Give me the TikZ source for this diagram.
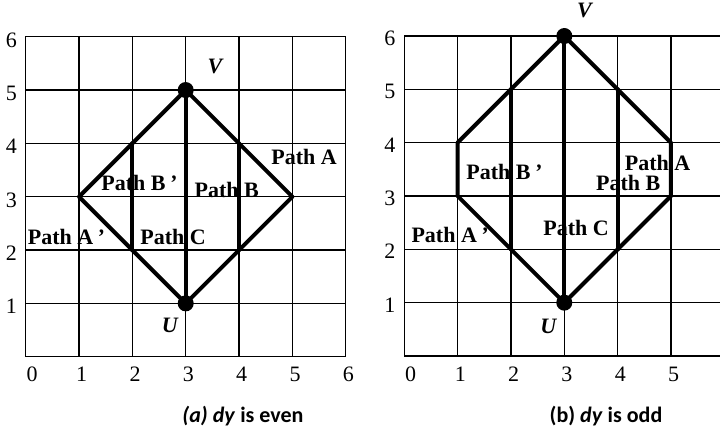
\documentclass[tikz,border=0pt]{standalone}
\usepackage{fontspec}
\setmainfont{Liberation Serif}
\setsansfont{Carlito}
\begin{document}
\begin{tikzpicture}[x=0.75pt,y=-0.75pt]
\tikzset{
  gridline/.style={line width=1pt,black},
  thick path/.style={line width=3pt,black,line cap=round,line join=round},
  dot/.style={circle,fill=black,inner sep=0pt,minimum size=12pt},
  lbl/.style={font=\fontsize{16.5}{18}\selectfont\bfseries,inner sep=0pt},
  vlbl/.style={font=\fontsize{16.5}{18}\selectfont\bfseries\itshape,inner sep=0pt},
  axlbl/.style={font=\fontsize{16.5}{18}\selectfont,inner sep=0pt},
  caption/.style={font=\fontsize{16.5}{18}\selectfont\sffamily\bfseries,inner sep=0pt}
}
\useasboundingbox (0,0) rectangle (720,433);
\clip (0,0) rectangle (720,433);

% ---------- (a) ----------
\begin{scope}[shift={(25.7,356.7)},x=40pt,y=40pt]
  \draw[gridline] (0,0) grid[step={(1,1)}] (6,6);
  \draw[gridline] (0,0) rectangle (6,6);
  \foreach \i in {1,...,6} \node[axlbl] (ay\i) at (-0.27,\i-0.06) {\i};
  \node[axlbl] (ax0) at (0.12,-0.33) {0};
  \foreach \i in {1,...,6} \node[axlbl] (ax\i) at (\i+0.05,-0.33) {\i};
  \coordinate (aL) at (1,3);
  \coordinate (aR) at (5,3);
  \coordinate (aB2t) at (2,4);
  \coordinate (aB2b) at (2,2);
  \coordinate (aB4t) at (4,4);
  \coordinate (aB4b) at (4,2);
  \node[dot] (aV) at (3,5) {};
  \node[dot] (aU) at (3,1) {};
  \draw[thick path] (aV.center) -- (aL) -- (aU.center) -- (aR) -- cycle;
  \draw[thick path] (aV.center) -- (aU.center);
  \draw[thick path] (aB2t) -- (aB2b);
  \draw[thick path] (aB4t) -- (aB4b);
  \node[vlbl] (aVl) at (3.55,5.45) {V};
  \node[vlbl] (aUl) at (2.7,0.59) {U};
\end{scope}
\node[lbl] (aPA) at (304,157.3) {Path A};
\node[lbl] (aPB) at (226.7,190) {Path B};
\node[lbl] (aPBp) at (139,183.3) {Path B\,\textit{’}};
\node[lbl] (aPC) at (173,236.7) {Path C};
\node[lbl] (aPAp) at (66,236.7) {Path A\,\textit{’}};
\node[caption] (capa) at (243,416) {\textit{(a) dy} is even};

% ---------- (b) ----------
\begin{scope}[shift={(404.3,356)},x=40pt,y=40pt]
  \draw[gridline] (0,0) grid[step={(1,1)}] (6,6);
  \draw[gridline] (0,0) rectangle (6,6);
  \foreach \i in {1,...,6} \node[axlbl] (by\i) at (-0.27,\i-0.04) {\i};
  \node[axlbl] (bx0) at (0.12,-0.34) {0};
  \foreach \i in {1,...,6} \node[axlbl] (bx\i) at (\i+0.05,-0.34) {\i};
  \coordinate (bLt) at (1,4);
  \coordinate (bLb) at (1,3);
  \coordinate (bRt) at (5,4);
  \coordinate (bRb) at (5,3);
  \coordinate (bB2t) at (2,5);
  \coordinate (bB2b) at (2,2);
  \coordinate (bB4t) at (4,5);
  \coordinate (bB4b) at (4,2);
  \node[dot] (bV) at (3,6) {};
  \node[dot] (bU) at (3,1) {};
  \draw[thick path] (bV.center) -- (bB2t) -- (bLt) -- (bLb) -- (bB2b) -- (bU.center)
        -- (bB4b) -- (bRb) -- (bRt) -- (bB4t) -- cycle;
  \draw[thick path] (bV.center) -- (bU.center);
  \draw[thick path] (bB2t) -- (bB2b);
  \draw[thick path] (bB4t) -- (bB4b);
  \node[vlbl] (bVl) at (3.38,6.48) {V};
  \node[vlbl] (bUl) at (2.7,0.55) {U};
\end{scope}
\node[lbl] (bPA) at (657.5,162.7) {Path A};
\node[lbl] (bPB) at (628.3,182.7) {Path B};
\node[lbl] (bPBp) at (504,171.7) {Path B\,\textit{’}};
\node[lbl] (bPC) at (576,228.3) {Path C};
\node[lbl] (bPAp) at (449.7,235) {Path A\,\textit{’}};
\node[caption] (capb) at (606,416) {(b) \textit{dy} is odd};
\end{tikzpicture}
\end{document}
